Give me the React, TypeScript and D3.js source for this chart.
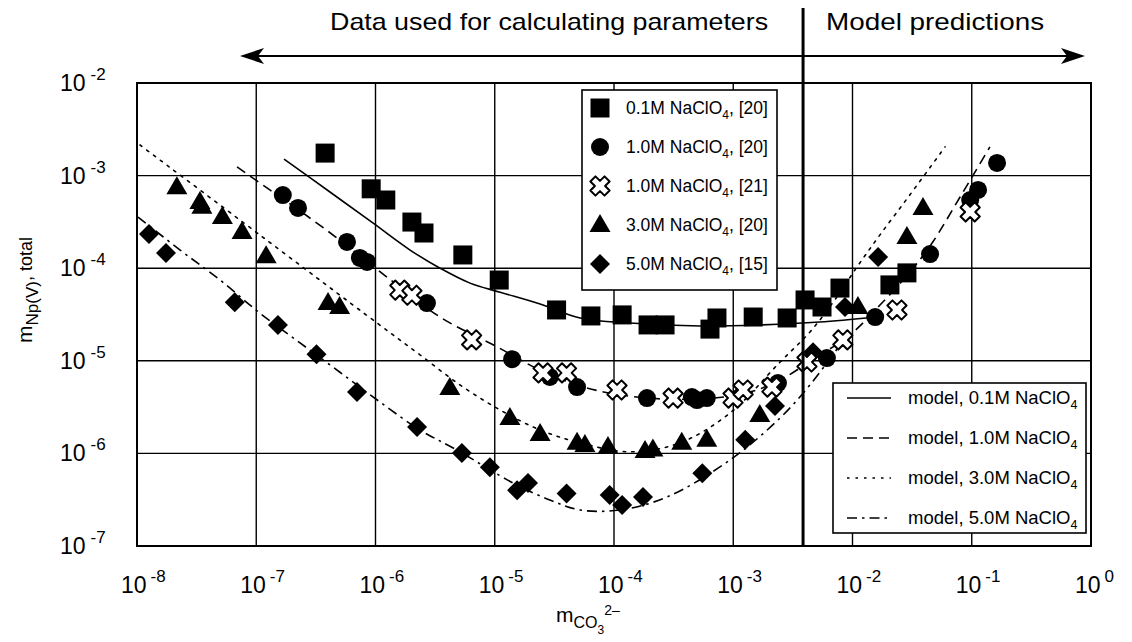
import React from "react";
import * as d3 from "d3";

type P = [number, number];

const W = 1132;
const H = 642;

// axis ticks
const xTicks = [1e-8, 1e-7, 1e-6, 1e-5, 1e-4, 1e-3, 1e-2, 1e-1, 1];
const xTickExps = ["-8", "-7", "-6", "-5", "-4", "-3", "-2", "-1", "0"];
const yTicks = [1e-7, 1e-6, 1e-5, 1e-4, 1e-3, 1e-2];
const yTickExps = ["-7", "-6", "-5", "-4", "-3", "-2"];

// boundary between fitted data and predictions
const splitX = 3.85e-3;

// measured data
const sq01: P[] = [
  [3.78e-7, 1.75e-3], [9.2e-7, 7.2e-4], [1.22e-6, 5.45e-4], [2.02e-6, 3.15e-4], [2.55e-6, 2.4e-4],
  [5.4e-6, 1.39e-4], [1.09e-5, 7.45e-5], [3.3e-5, 3.54e-5], [6.4e-5, 3.05e-5], [1.17e-4, 3.13e-5],
  [1.93e-4, 2.44e-5], [2.68e-4, 2.44e-5], [6.38e-4, 2.2e-5], [7.3e-4, 2.9e-5], [1.47e-3, 2.97e-5],
  [2.83e-3, 2.9e-5], [4.0e-3, 4.54e-5], [5.55e-3, 3.81e-5], [7.85e-3, 6.1e-5], [2.06e-2, 6.6e-5],
  [2.86e-2, 8.9e-5],
];
const ci10: P[] = [
  [1.67e-7, 6.17e-4], [2.24e-7, 4.47e-4], [5.77e-7, 1.92e-4], [7.4e-7, 1.29e-4], [8.5e-7, 1.17e-4],
  [2.7e-6, 4.2e-5], [1.4e-5, 1.04e-5], [2.9e-5, 6.7e-6], [4.9e-5, 5.2e-6], [1.89e-4, 3.96e-6],
  [4.5e-4, 4.06e-6], [4.97e-4, 3.77e-6], [6.0e-4, 3.96e-6], [2.37e-3, 5.75e-6], [6.1e-3, 1.07e-5],
  [1.55e-2, 2.97e-5], [4.47e-2, 1.42e-4], [9.7e-2, 5.45e-4], [1.13e-1, 7.0e-4], [1.63e-1, 1.37e-3],
];
const cr10: P[] = [
  [1.6e-6, 5.8e-5], [2.02e-6, 5.1e-5], [6.4e-6, 1.68e-5], [2.54e-5, 7.4e-6], [4.0e-5, 7.4e-6],
  [1.06e-4, 4.84e-6], [3.13e-4, 3.96e-6], [9.96e-4, 3.96e-6], [1.21e-3, 4.84e-6], [2.11e-3, 5.2e-6],
  [4.15e-3, 9.7e-6], [8.3e-3, 1.68e-5], [2.36e-2, 3.54e-5], [9.7e-2, 4.05e-4],
];
const tr30: P[] = [
  [2.16e-8, 7.5e-4], [3.37e-8, 5.2e-4], [3.5e-8, 4.6e-4], [5.2e-8, 3.57e-4], [7.6e-8, 2.46e-4],
  [1.21e-7, 1.35e-4], [4.0e-7, 4.2e-5], [5.0e-7, 3.8e-5], [4.2e-6, 5.1e-6], [1.34e-5, 2.41e-6],
  [2.4e-5, 1.62e-6], [4.9e-5, 1.3e-6], [5.7e-5, 1.23e-6], [8.9e-5, 1.17e-6], [1.82e-4, 1.06e-6],
  [2.12e-4, 1.1e-6], [3.7e-4, 1.3e-6], [6.0e-4, 1.4e-6], [1.67e-3, 2.6e-6], [1.11e-2, 3.8e-5],
  [2.86e-2, 2.17e-4], [3.9e-2, 4.47e-4],
];
const di50: P[] = [
  [1.26e-8, 2.34e-4], [1.75e-8, 1.46e-4], [6.6e-8, 4.3e-5], [1.52e-7, 2.44e-5], [3.2e-7, 1.18e-5],
  [7.0e-7, 4.6e-6], [2.23e-6, 1.93e-6], [5.3e-6, 1.01e-6], [9.1e-6, 7.1e-7], [1.54e-5, 4.0e-7],
  [1.9e-5, 4.8e-7], [4.0e-5, 3.7e-7], [9.2e-5, 3.55e-7], [1.17e-4, 2.77e-7], [1.75e-4, 3.38e-7],
  [5.5e-4, 6.1e-7], [1.26e-3, 1.4e-6], [2.24e-3, 3.25e-6], [4.67e-3, 1.24e-5], [8.65e-3, 3.8e-5],
  [1.64e-2, 1.32e-4],
];

// model curves
const model01: P[] = [
  [1.71e-7, 1.51e-3], [4.15e-7, 6.65e-4], [9.5e-7, 3.08e-4], [1.95e-6, 1.57e-4], [3.48e-6, 1.0e-4],
  [6.2e-6, 6.9e-5], [1.11e-5, 5.5e-5], [2.4e-5, 4.1e-5], [5.2e-5, 2.9e-5], [1.36e-4, 2.56e-5],
  [5.3e-4, 2.38e-5], [1.67e-3, 2.44e-5], [5.3e-3, 2.62e-5], [1.55e-2, 2.97e-5],
];
const model10: P[] = [
  [6.9e-8, 1.24e-3], [1.3e-7, 7.0e-4], [2.33e-7, 4.15e-4], [5.0e-7, 2.02e-4], [1.25e-6, 8.0e-5],
  [3.48e-6, 2.97e-5], [1.05e-5, 1.41e-5], [2.4e-5, 7.95e-6], [5.9e-5, 5.1e-6], [1.89e-4, 3.96e-6],
  [6.76e-4, 3.96e-6], [1.38e-3, 4.6e-6], [2.47e-3, 6.2e-6], [4.85e-3, 1.07e-5], [9.5e-3, 1.9e-5],
  [1.7e-2, 4.0e-5], [3.03e-2, 9.1e-5], [4.65e-2, 1.87e-4], [7.98e-2, 5.87e-4], [1.42e-1, 2.04e-3],
];
const model30: P[] = [
  [1.06e-8, 2.14e-3], [1.07e-7, 2.29e-4], [1.03e-6, 2.56e-5], [2.36e-6, 1.16e-5], [5.1e-6, 5.5e-6],
  [1.11e-5, 2.94e-6], [2.4e-5, 1.79e-6], [5.2e-5, 1.3e-6], [1.36e-4, 1.04e-6], [3.57e-4, 1.3e-6],
  [9.4e-4, 2.73e-6], [2.47e-3, 9.7e-6], [4.4e-3, 2.05e-5], [7.1e-3, 4.54e-5], [1.09e-2, 1.03e-4],
  [1.7e-2, 2.29e-4], [3.03e-2, 6.2e-4], [5.97e-2, 2.04e-3],
];
const model50: P[] = [
  [1.02e-8, 3.57e-4], [2.3e-8, 1.57e-4], [4.97e-8, 7.46e-5], [1.07e-7, 3.28e-5], [2.33e-7, 1.56e-5],
  [5.0e-7, 7.57e-6], [1.09e-6, 3.59e-6], [2.36e-6, 1.79e-6], [4.8e-6, 1.09e-6], [1.42e-5, 4.8e-7],
  [2.9e-5, 3.14e-7], [5.2e-5, 2.45e-7], [1.12e-4, 2.45e-7], [2.78e-4, 3.38e-7], [9.4e-4, 8.5e-7],
  [2.47e-3, 2.41e-6], [4.4e-3, 5.5e-6], [7.85e-3, 1.48e-5],
];

// legends
const dataLegendConc = ["0.1M", "1.0M", "1.0M", "3.0M", "5.0M"];
const dataLegendRef = ["[20]", "[20]", "[21]", "[20]", "[15]"];
const dataLegendShape = ["square", "circle", "cross", "triangle", "diamond"];
const modelLegendConc = ["0.1M", "1.0M", "3.0M", "5.0M"];
const modelDash = ["none", "10,6", "2.5,6", "10,5,2.5,5"];

const FONT = "'Liberation Sans', Arial, Helvetica, sans-serif";

function crossPath(): string {
  const a = 3.6;
  const L = 10;
  const pts: P[] = [
    [-a, -L], [a, -L], [a, -a], [L, -a], [L, a], [a, a], [a, L], [-a, L], [-a, a], [-L, a], [-L, -a], [-a, -a],
  ];
  const c = Math.SQRT1_2;
  return (
    "M" +
    pts.map(([x, y]) => `${(x * c - y * c).toFixed(2)},${(x * c + y * c).toFixed(2)}`).join("L") +
    "Z"
  );
}
const CROSS = crossPath();

function Marker({ shape, cx, cy }: { shape: string; cx: number; cy: number }) {
  const t = `translate(${cx},${cy})`;
  if (shape === "square") return <rect x={cx - 9.5} y={cy - 9.5} width={19} height={19} fill="#000" />;
  if (shape === "circle") return <circle cx={cx} cy={cy} r={9} fill="#000" />;
  if (shape === "triangle") return <path transform={t} d="M0,-11L10.5,7L-10.5,7Z" fill="#000" />;
  if (shape === "diamond") return <path transform={t} d="M0,-10L10,0L0,10L-10,0Z" fill="#000" />;
  return <path transform={t} d={CROSS} fill="#fff" stroke="#000" strokeWidth={2} strokeLinejoin="round" />;
}

export default function App() {
  const x = d3.scaleLog().domain([1e-8, 1]).range([137, 1091]);
  const y = d3.scaleLog().domain([1e-7, 1e-2]).range([546, 83]);
  const line = d3
    .line<P>()
    .x((d) => x(d[0]))
    .y((d) => y(d[1]))
    .curve(d3.curveCatmullRom.alpha(0.5));

  const x0 = x.range()[0];
  const x1 = x.range()[1];
  const y0 = y.range()[1];
  const y1 = y.range()[0];
  const xs = x(splitX);

  const models = [model01, model10, model30, model50];
  const series: { shape: string; data: P[] }[] = [
    { shape: "square", data: sq01 },
    { shape: "circle", data: ci10 },
    { shape: "triangle", data: tr30 },
    { shape: "diamond", data: di50 },
    { shape: "cross", data: cr10 },
  ];

  return (
    <svg
      width={W}
      height={H}
      style={{ position: "absolute", left: 0, top: 0, background: "#fff" }}
      fontFamily={FONT}
    >
      <rect x={0} y={0} width={W} height={H} fill="#fff" />
      {/* grid */}
      {xTicks.slice(1, -1).map((t, i) => (
        <line key={"gx" + i} x1={x(t)} x2={x(t)} y1={y0} y2={y1} stroke="#000" strokeWidth={1.4} />
      ))}
      {yTicks.slice(1, -1).map((t, i) => (
        <line key={"gy" + i} x1={x0} x2={x1} y1={y(t)} y2={y(t)} stroke="#000" strokeWidth={1.4} />
      ))}

      {/* model curves */}
      {models.map((m, i) => (
        <path
          key={"m" + i}
          d={line(m) || ""}
          fill="none"
          stroke="#000"
          strokeWidth={1.6}
          strokeDasharray={modelDash[i] === "none" ? undefined : modelDash[i]}
          strokeLinecap={i === 2 ? "round" : "butt"}
        />
      ))}

      {/* data markers */}
      {series.map((s, si) =>
        s.data.map((d, i) => <Marker key={si + "-" + i} shape={s.shape} cx={x(d[0])} cy={y(d[1])} />)
      )}

      {/* frame */}
      <rect x={x0} y={y0} width={x1 - x0} height={y1 - y0} fill="none" stroke="#000" strokeWidth={2} />

      {/* split line and arrows */}
      <line x1={xs} x2={xs} y1={8} y2={y1} stroke="#000" strokeWidth={3} />
      <line x1={250} x2={1075} y1={56} y2={56} stroke="#000" strokeWidth={2} />
      <path d="M240,56L264,48L258,56L264,64Z" fill="#000" />
      <path d="M1085,56L1061,48L1067,56L1061,64Z" fill="#000" />
      <text x={xs - 35} y={30} fontSize={24} textAnchor="end" textLength={438} lengthAdjust="spacingAndGlyphs">
        Data used for calculating parameters
      </text>
      <text x={xs + 23} y={30} fontSize={24} textAnchor="start" textLength={218} lengthAdjust="spacingAndGlyphs">
        Model predictions
      </text>

      {/* data legend */}
      <rect x={582} y={90} width={195} height={200} fill="#fff" stroke="#000" strokeWidth={1.6} />
      {dataLegendConc.map((c, i) => {
        const cy = 108 + i * 39;
        return (
          <g key={"dl" + i}>
            <Marker shape={dataLegendShape[i]} cx={600} cy={cy} />
            <text x={626} y={cy + 6} fontSize={17.5}>
              {c} NaClO
              <tspan fontSize={12} dy={5}>4</tspan>
              <tspan dy={-5}>, {dataLegendRef[i]}</tspan>
            </text>
          </g>
        );
      })}

      {/* model legend */}
      <rect x={833} y={383} width={253} height={150} fill="#fff" stroke="#000" strokeWidth={1.6} />
      {modelLegendConc.map((c, i) => {
        const cy = 398 + i * 40;
        return (
          <g key={"ml" + i}>
            <line
              x1={847}
              x2={891}
              y1={cy}
              y2={cy}
              stroke="#000"
              strokeWidth={1.6}
              strokeDasharray={modelDash[i] === "none" ? undefined : modelDash[i]}
            />
            <text x={908} y={cy + 6} fontSize={18.5}>
              model, {c} NaClO
              <tspan fontSize={12.5} dy={5}>4</tspan>
            </text>
          </g>
        );
      })}

      {/* x tick labels */}
      {xTicks.map((t, i) => (
        <text key={"xt" + i} x={x(t) - 16} y={593} fontSize={23}>
          10
          <tspan fontSize={17} dx={4} dy={-11}>{xTickExps[i]}</tspan>
        </text>
      ))}
      {/* y tick labels */}
      {yTicks.map((t, i) => (
        <text key={"yt" + i} x={60} y={y(t) + 8} fontSize={23}>
          10
          <tspan fontSize={17} dx={5} dy={-11}>{yTickExps[i]}</tspan>
        </text>
      ))}

      {/* axis titles */}
      <text x={556} y={622} fontSize={21}>
        m
        <tspan fontSize={16} dy={6}>CO</tspan>
        <tspan fontSize={12} dy={6}>3</tspan>
        <tspan fontSize={14} dy={-19}>2–</tspan>
      </text>
      <text transform="translate(32,290) rotate(-90)" textAnchor="middle" fontSize={21}>
        m
        <tspan fontSize={17} dy={6}>Np(V)</tspan>
        <tspan fontSize={18} dy={-6}>, total</tspan>
      </text>
    </svg>
  );
}
